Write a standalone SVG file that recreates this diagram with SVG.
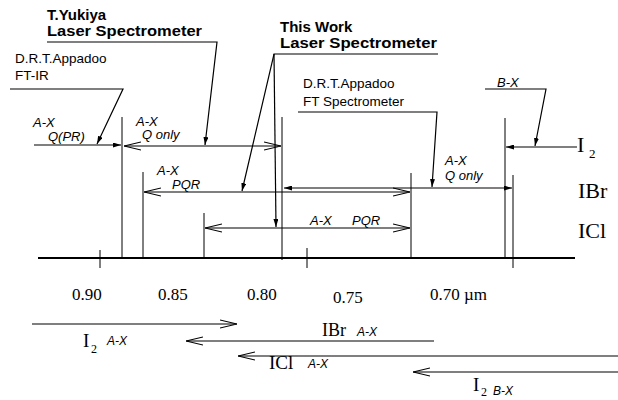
<svg xmlns="http://www.w3.org/2000/svg" width="618" height="400" viewBox="0 0 618 400">
<style>
.ln{fill:none;stroke:#000;stroke-width:1.2}
.vl{fill:none;stroke:#000;stroke-width:1}
.ax{fill:none;stroke:#000;stroke-width:2}
.hb{font-family:"Liberation Sans",Arial,sans-serif;font-weight:bold;font-size:15px;fill:#000}
.hs{font-family:"Liberation Sans",Arial,sans-serif;font-size:13.5px;fill:#000}
.it{font-family:"Liberation Sans",Arial,sans-serif;font-style:italic;font-size:13px;fill:#000}
.its{font-family:"Liberation Sans",Arial,sans-serif;font-style:italic;font-size:12px;fill:#000}
.tm{font-family:"Liberation Serif","Times New Roman",serif;fill:#000}
</style>
<defs>
<marker id="chev" viewBox="0 0 17 10" refX="17" refY="5" markerWidth="17" markerHeight="10" markerUnits="userSpaceOnUse" orient="auto-start-reverse">
<path d="M0,1 L17,5 L0,9" fill="none" stroke="#000" stroke-width="1.2"/>
</marker>
<marker id="tri" viewBox="0 0 8 5" refX="8" refY="2.5" markerWidth="8" markerHeight="5" markerUnits="userSpaceOnUse" orient="auto-start-reverse">
<path d="M0,0 L8,2.5 L0,5 z" fill="#000"/>
</marker>
</defs>
<rect width="618" height="400" fill="#fff"/>

<g id="axis">
<path class="ax" d="M38,258 H575"/>
<path class="vl" d="M100,250 V268 M307,248 V268"/>
<g class="tm" font-size="17">
<text x="72" y="300">0.90</text>
<text x="158" y="300">0.85</text>
<text x="247" y="300">0.80</text>
<text x="333" y="303">0.75</text>
<text x="430" y="300">0.70 µm</text>
</g>
</g>

<g id="boundaries">
<path class="vl" d="M122,117 V258 M143,172 V258 M204,213 V258 M282,117 V260 M411,173 V258 M505,118 V258 M513,175 V268"/>
</g>

<g id="yukiya">
<text class="hb" x="47" y="20">T.Yukiya</text>
<text class="hb" x="47" y="36" textLength="155" lengthAdjust="spacingAndGlyphs">Laser Spectrometer</text>
</g>
<g id="thiswork">
<text class="hb" x="280" y="32">This Work</text>
<text class="hb" x="280" y="48" textLength="157" lengthAdjust="spacingAndGlyphs">Laser Spectrometer</text>
</g>
<g id="appadoo-ftir">
<text class="hs" x="15" y="63">D.R.T.Appadoo</text>
<text class="hs" x="15" y="80">FT-IR</text>
</g>
<g id="appadoo-ft">
<text class="hs" x="303" y="88">D.R.T.Appadoo</text>
<text class="hs" x="303" y="106">FT Spectrometer</text>
</g>
<g id="bx-label">
<text class="it" x="497" y="87">B-X</text>
</g>

<g id="range-labels">
<text class="it" x="33" y="127">A-X</text>
<text class="it" x="48" y="141">Q(PR)</text>
<text class="it" x="136" y="126">A-X</text>
<text class="it" x="142" y="139">Q only</text>
<text class="it" x="157" y="175">A-X</text>
<text class="it" x="172" y="189">PQR</text>
<text class="it" x="310" y="225">A-X</text>
<text class="it" x="352" y="225">PQR</text>
<text class="it" x="445" y="165">A-X</text>
<text class="it" x="445" y="180">Q only</text>
</g>

<g id="molecules">
<text class="tm" font-size="22" x="577" y="152">I</text>
<text class="tm" font-size="13" x="589" y="158">2</text>
<text class="tm" font-size="22" x="578" y="198">IBr</text>
<text class="tm" font-size="22" x="578" y="238">ICl</text>
</g>

<g id="connectors">
<path class="ln" d="M47,42 H217 L205,145" marker-end="url(#tri)"/>
<path class="ln" d="M438,54 H274 L242,191" marker-end="url(#tri)"/>
<path class="ln" d="M274,54 L276,227" marker-end="url(#tri)"/>
<path class="ln" d="M10,89 H123 L97,144" marker-end="url(#tri)"/>
<path class="ln" d="M298,112 H437 L432,187" marker-end="url(#tri)"/>
<path class="ln" d="M485,89 H546 L535,146" marker-end="url(#tri)"/>

<path class="ln" d="M34,145 H121" marker-end="url(#tri)"/>
<path class="ln" d="M124,146 H281" marker-start="url(#chev)" marker-end="url(#chev)"/>
<path class="ln" d="M577,147 H506" marker-end="url(#tri)"/>
<path class="ln" d="M144,192 H410" marker-start="url(#chev)" marker-end="url(#chev)"/>
<path class="ln" d="M284,188 H512" marker-start="url(#tri)" marker-end="url(#tri)"/>
<path class="ln" d="M205,228 H410" marker-start="url(#chev)" marker-end="url(#chev)"/>
</g>

<g id="bottom-ranges">
<path class="ln" d="M32,324 H237" marker-end="url(#chev)"/>
<path class="ln" d="M434,341 H186" marker-end="url(#chev)"/>
<path class="ln" d="M618,356 H238" marker-end="url(#chev)"/>
<path class="ln" d="M618,372 H413" marker-end="url(#chev)"/>
<text class="tm" font-size="19" x="83" y="347">I</text>
<text class="tm" font-size="12" x="91" y="353">2</text>
<text class="its" x="107" y="345">A-X</text>
<text class="tm" font-size="18" x="322" y="336">IBr</text>
<text class="its" x="357" y="336">A-X</text>
<text class="tm" font-size="19" x="269" y="369">ICl</text>
<text class="its" x="308" y="368">A-X</text>
<text class="tm" font-size="19" x="473" y="391">I</text>
<text class="tm" font-size="12" x="481" y="396">2</text>
<text class="its" x="493" y="395">B-X</text>
</g>
</svg>
